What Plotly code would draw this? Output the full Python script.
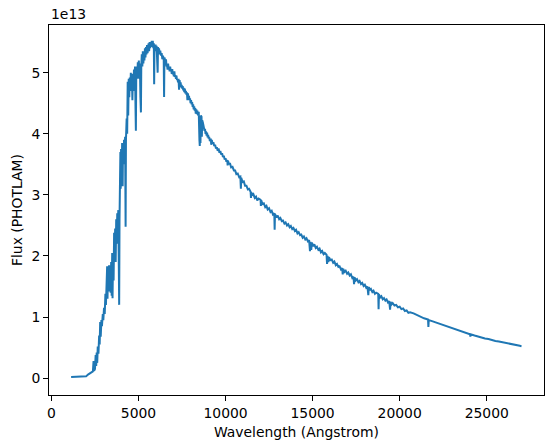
"""
Stellar spectrum — flux (PHOTLAM) against wavelength, matplotlib look in Plotly.
"""
import plotly.graph_objects as go

LINE_COLOR = "#1f77b4"
FONT = "DejaVu Sans"
FONT_SIZE = 13.9

# Wavelength in Angstrom (10 values per row, rows line up with flux below)
wavelength = [
    1130, 1400, 1700, 1990, 2100, 2200, 2300, 2380, 2420, 2450,
    2500, 2540, 2570, 2600, 2630, 2660, 2700, 2740, 2770, 2800,
    2830, 2870, 2900, 2950, 2980, 3020, 3060, 3100, 3130, 3170,
    3200, 3220, 3250, 3280, 3310, 3340, 3370, 3400, 3430, 3460,
    3490, 3510, 3540, 3570, 3600, 3630, 3660, 3690, 3720, 3750,
    3780, 3800, 3840, 3870, 3890, 3910, 3940, 3960, 3980, 4000,
    4030, 4060, 4090, 4110, 4140, 4170, 4200, 4230, 4260, 4280,
    4320, 4350, 4380, 4410, 4440, 4470, 4500, 4530, 4560, 4590,
    4620, 4650, 4680, 4710, 4740, 4770, 4800, 4830, 4850, 4870,
    4900, 4930, 4960, 4990, 5020, 5050, 5080, 5110, 5140, 5160,
    5190, 5220, 5250, 5280, 5310, 5340, 5370, 5400, 5430, 5460,
    5490, 5520, 5550, 5580, 5610, 5640, 5670, 5700, 5730, 5760,
    5790, 5820, 5850, 5880, 5900, 5920, 5950, 5980, 6010, 6040,
    6070, 6100, 6120, 6150, 6180, 6210, 6250, 6290, 6330, 6370,
    6410, 6450, 6470, 6490, 6530, 6560, 6580, 6610, 6640, 6670,
    6700, 6730, 6760, 6790, 6820, 6850, 6880, 6910, 6940, 6970,
    7000, 7030, 7060, 7090, 7120, 7150, 7180, 7210, 7240, 7270,
    7300, 7330, 7360, 7390, 7420, 7450, 7480, 7510, 7540, 7570,
    7600, 7630, 7660, 7690, 7720, 7750, 7780, 7810, 7840, 7870,
    7900, 7930, 7960, 7990, 8020, 8050, 8080, 8110, 8140, 8170,
    8200, 8230, 8260, 8290, 8320, 8350, 8380, 8420, 8460, 8500,
    8520, 8540, 8560, 8580, 8620, 8640, 8660, 8700, 8730, 8760,
    8790, 8820, 8850, 8880, 8910, 8940, 8970, 9000, 9030, 9060,
    9100, 9150, 9180, 9210, 9250, 9300, 9350, 9400, 9450, 9500,
    9550, 9600, 9650, 9700, 9750, 9800, 9850, 9900, 9950, 10000,
    10050, 10100, 10120, 10140, 10200, 10250, 10320, 10400, 10480, 10550,
    10620, 10700, 10780, 10850, 10880, 10900, 10980, 11050, 11120, 11200,
    11280, 11350, 11440, 11460, 11480, 11540, 11600, 11680, 11750, 11820,
    11900, 12010, 12030, 12050, 12120, 12200, 12280, 12350, 12420, 12500,
    12580, 12650, 12720, 12800, 12820, 12840, 12920, 13000, 13080, 13150,
    13230, 13300, 13380, 13450, 13530, 13600, 13680, 13750, 13830, 13900,
    13980, 14050, 14130, 14200, 14280, 14350, 14430, 14500, 14580, 14650,
    14730, 14800, 14850, 14880, 14920, 14960, 15030, 15100, 15180, 15250,
    15330, 15400, 15480, 15550, 15630, 15700, 15800, 15830, 15860, 15900,
    15940, 16020, 16100, 16180, 16250, 16330, 16400, 16480, 16550, 16630,
    16700, 16730, 16760, 16830, 16900, 16980, 17050, 17130, 17200, 17280,
    17350, 17380, 17410, 17480, 17550, 17630, 17700, 17780, 17850, 17930,
    18000, 18080, 18150, 18200, 18230, 18290, 18350, 18430, 18500, 18580,
    18650, 18770, 18790, 18810, 18880, 18950, 19030, 19100, 19180, 19250,
    19330, 19400, 19450, 19480, 19540, 19600, 19700, 19800, 19900, 20000,
    20100, 20200, 20300, 20400, 20500, 20600, 20800, 21000, 21200, 21400,
    21630, 21650, 21670, 21900, 22100, 22300, 22500, 22700, 22900, 23100,
    23300, 23500, 23700, 23900, 24040, 24060, 24080, 24300, 24500, 24700,
    24900, 25100, 25300, 25500, 25700, 25900, 26100, 26300, 26500, 26700,
    26900, 27000,
]

# Flux in units of 1e13 PHOTLAM
flux = [
    0.02, 0.02, 0.02, 0.03, 0.06, 0.08, 0.09, 0.11, 0.28, 0.12,
    0.15, 0.38, 0.20, 0.42, 0.25, 0.52, 0.40, 0.70, 0.55, 0.92,
    0.68, 0.95, 0.85, 1.05, 0.95, 1.15, 1.05, 1.38, 1.20, 1.45,
    1.83, 1.30, 1.80, 1.45, 1.85, 1.42, 1.78, 1.40, 1.90, 1.35,
    2.05, 1.31, 2.02, 1.60, 2.38, 2.10, 2.45, 1.90, 2.60, 2.20,
    2.70, 2.40, 2.75, 1.30, 1.20, 2.60, 3.20, 3.70, 3.10, 3.75,
    3.30, 3.85, 3.14, 3.80, 3.50, 3.90, 3.60, 3.95, 2.48, 3.90,
    4.25, 4.00, 4.85, 4.30, 4.90, 4.60, 4.92, 4.70, 5.00, 4.75,
    4.95, 4.55, 4.98, 4.70, 5.05, 4.85, 5.10, 4.40, 4.05, 4.90,
    5.10, 4.90, 5.17, 5.00, 5.20, 4.90, 5.15, 4.60, 4.35, 5.10,
    5.30, 5.10, 5.35, 5.15, 5.33, 5.20, 5.40, 5.25, 5.42, 5.30,
    5.45, 5.32, 5.38, 5.48, 5.35, 5.50, 5.40, 5.50, 5.42, 5.52,
    5.45, 5.52, 5.40, 5.48, 4.81, 5.45, 5.38, 5.46, 5.35, 5.44,
    5.30, 5.00, 5.42, 5.35, 5.40, 5.30, 5.36, 5.28, 5.32, 5.22,
    5.28, 5.20, 4.60, 5.25, 5.20, 5.14, 5.22, 5.10, 5.12, 5.05,
    5.15, 5.08, 5.08, 5.02, 5.10, 5.03, 5.05, 4.98, 5.06, 4.97,
    5.00, 4.94, 5.02, 4.93, 4.96, 4.90, 4.95, 4.88, 4.90, 4.84,
    4.90, 4.72, 4.88, 4.80, 4.84, 4.76, 4.80, 4.74, 4.78, 4.71,
    4.75, 4.68, 4.74, 4.66, 4.70, 4.64, 4.68, 4.55, 4.66, 4.58,
    4.62, 4.55, 4.58, 4.50, 4.55, 4.48, 4.52, 4.44, 4.48, 4.40,
    4.45, 4.38, 4.42, 4.33, 4.40, 4.32, 4.38, 4.30, 4.36, 3.90,
    3.80, 4.25, 3.85, 4.30, 4.28, 3.95, 4.22, 4.18, 4.10, 4.12,
    4.05, 4.08, 4.00, 4.04, 3.97, 4.02, 3.94, 3.98, 3.92, 3.95,
    3.88, 3.92, 3.82, 3.90, 3.84, 3.86, 3.80, 3.82, 3.76, 3.78,
    3.72, 3.76, 3.69, 3.72, 3.66, 3.68, 3.62, 3.64, 3.58, 3.60,
    3.54, 3.57, 3.48, 3.56, 3.50, 3.52, 3.45, 3.46, 3.40, 3.40,
    3.34, 3.35, 3.29, 3.30, 3.10, 3.28, 3.21, 3.22, 3.15, 3.15,
    3.09, 3.10, 3.05, 2.95, 3.04, 2.99, 3.01, 2.95, 2.97, 2.91,
    2.94, 2.92, 2.82, 2.91, 2.85, 2.86, 2.80, 2.82, 2.76, 2.78,
    2.72, 2.74, 2.68, 2.70, 2.43, 2.69, 2.63, 2.66, 2.60, 2.62,
    2.57, 2.58, 2.53, 2.55, 2.50, 2.52, 2.47, 2.49, 2.44, 2.46,
    2.41, 2.43, 2.37, 2.39, 2.34, 2.35, 2.30, 2.32, 2.27, 2.29,
    2.24, 2.26, 2.08, 2.23, 2.10, 2.22, 2.16, 2.19, 2.13, 2.15,
    2.10, 2.12, 2.06, 2.08, 2.03, 2.05, 2.02, 1.87, 2.00, 1.90,
    1.98, 1.93, 1.94, 1.89, 1.91, 1.85, 1.87, 1.82, 1.83, 1.78,
    1.80, 1.70, 1.79, 1.74, 1.76, 1.71, 1.73, 1.68, 1.70, 1.64,
    1.66, 1.54, 1.65, 1.60, 1.62, 1.57, 1.59, 1.54, 1.56, 1.51,
    1.53, 1.48, 1.50, 1.36, 1.49, 1.44, 1.46, 1.41, 1.43, 1.38,
    1.40, 1.38, 1.13, 1.37, 1.32, 1.34, 1.29, 1.31, 1.27, 1.29,
    1.24, 1.26, 1.12, 1.25, 1.21, 1.23, 1.19, 1.20, 1.16, 1.17,
    1.13, 1.14, 1.10, 1.11, 1.07, 1.08, 1.06, 1.03, 1.01, 0.98,
    0.96, 0.84, 0.95, 0.93, 0.91, 0.89, 0.87, 0.85, 0.83, 0.81,
    0.79, 0.77, 0.75, 0.74, 0.72, 0.68, 0.72, 0.70, 0.68, 0.67,
    0.65, 0.64, 0.62, 0.61, 0.60, 0.59, 0.57, 0.56, 0.55, 0.54,
    0.53, 0.52,
]

x_ticks = [0, 5000, 10000, 15000, 20000, 25000]
x_tick_labels = ["0", "5000", "10000", "15000", "20000", "25000"]
y_ticks = [0, 1, 2, 3, 4, 5]
y_tick_labels = ["0", "1", "2", "3", "4", "5"]

fig = go.Figure(go.Scatter(
    x=wavelength,
    y=flux,
    mode="lines",
    line=dict(color=LINE_COLOR, width=2),
    showlegend=False,
))

axis_style = dict(
    showline=True, mirror=True, linecolor="black", linewidth=1,
    ticks="outside", ticklen=5, tickwidth=1, tickcolor="black",
    showgrid=False, zeroline=False, automargin=False,
    tickfont=dict(family=FONT, size=FONT_SIZE, color="black"),
)

fig.update_layout(
    width=554, height=448,
    margin=dict(l=49, r=10, t=25, b=53),
    paper_bgcolor="white",
    plot_bgcolor="white",
    font=dict(family=FONT, size=FONT_SIZE, color="black"),
    xaxis=dict(axis_style, range=[-140, 28290],
               tickvals=x_ticks, ticktext=x_tick_labels),
    yaxis=dict(axis_style, range=[-0.275, 5.78],
               tickvals=y_ticks, ticktext=y_tick_labels),
    annotations=[
        dict(text="1e13", xref="paper", yref="paper", x=0, y=1,
             xanchor="left", yanchor="bottom", yshift=1, showarrow=False),
        dict(text="Wavelength (Angstrom)", xref="paper", yref="paper",
             x=0.5, y=0, xanchor="center", yanchor="top", yshift=-27,
             showarrow=False),
        dict(text="Flux (PHOTLAM)", xref="paper", yref="paper",
             x=0, y=0.5, xanchor="center", yanchor="middle", xshift=-32,
             textangle=-90, showarrow=False),
    ],
)

# the page body has a default 8px margin; drop it so the figure sits at 0,0
fig.write_html(
    "out.html",
    config={"displayModeBar": False},
    post_script="document.body.style.margin='0';",
)
